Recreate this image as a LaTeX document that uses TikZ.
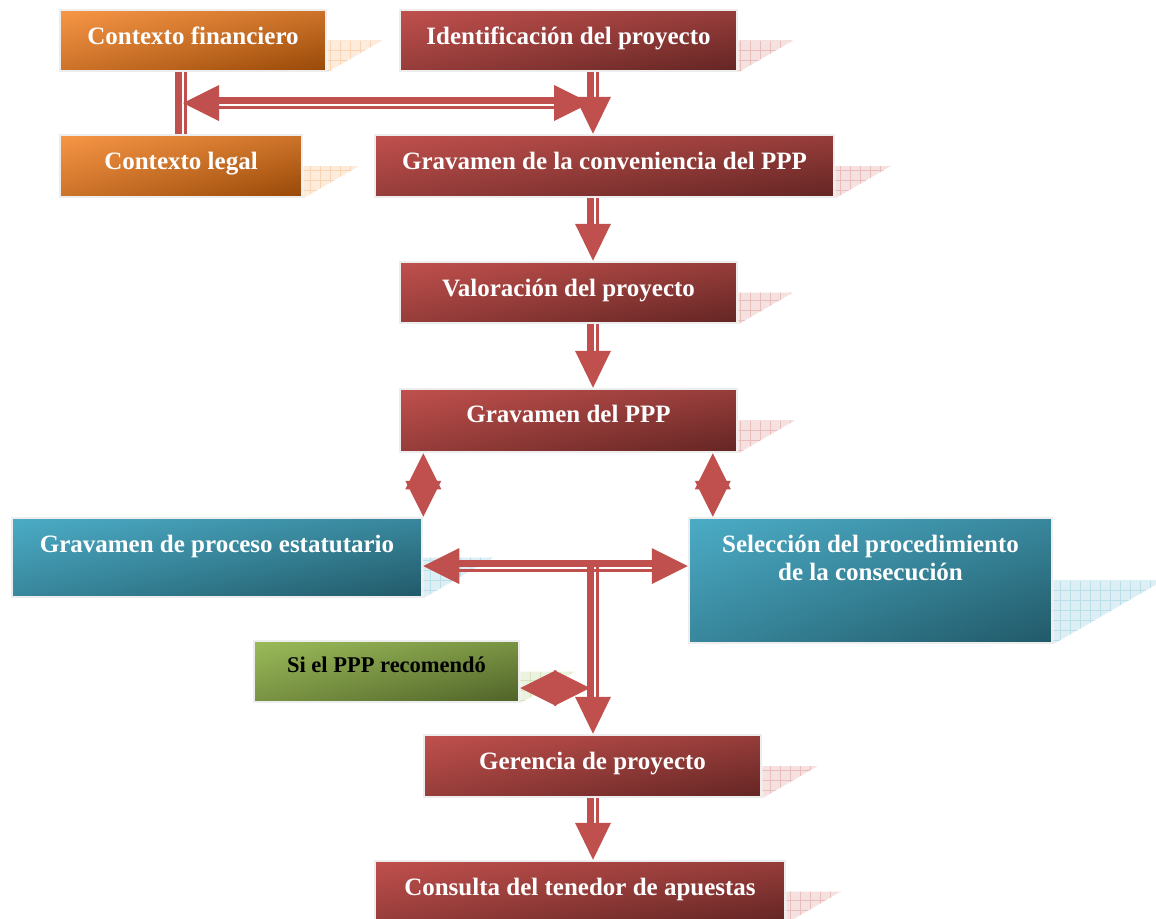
\documentclass[tikz,border=0pt]{standalone}
\usepackage{fontspec}
\setmainfont{Liberation Serif}
\usetikzlibrary{calc,shadings}
\definecolor{arrowred}{HTML}{C0504D}
\definecolor{redA}{HTML}{C0504D}
\definecolor{redB}{HTML}{632523}
\colorlet{redM}{redA!55!redB}
\definecolor{orA}{HTML}{F79646}
\definecolor{orB}{HTML}{984807}
\colorlet{orM}{orA!55!orB}
\definecolor{teA}{HTML}{4BACC6}
\definecolor{teB}{HTML}{215968}
\colorlet{teM}{teA!55!teB}
\definecolor{grA}{HTML}{9BBB59}
\definecolor{grB}{HTML}{4F6228}
\colorlet{grM}{grA!55!grB}
\definecolor{shRed}{HTML}{F5E1E0}
\definecolor{gdRed}{HTML}{E8BDBC}
\definecolor{shOr}{HTML}{FDEBDC}
\definecolor{gdOr}{HTML}{FAD3B2}
\definecolor{shTe}{HTML}{DDEFF4}
\definecolor{gdTe}{HTML}{B9DFE9}
\definecolor{shGr}{HTML}{ECF2E0}
\definecolor{gdGr}{HTML}{D5E2BA}
\tikzset{
  box/.style={rectangle, draw=black!7, line width=2.5pt, inner sep=0pt, shade},
  redbox/.style={box, upper left=redA, upper right=redM, lower left=redM, lower right=redB},
  orbox/.style={box, upper left=orA, upper right=orM, lower left=orM, lower right=orB},
  tebox/.style={box, upper left=teA, upper right=teM, lower left=teM, lower right=teB},
  grbox/.style={box, upper left=grA, upper right=grM, lower left=grM, lower right=grB},
  lbl/.style={anchor=base, text=white, font=\bfseries\fontsize{25}{28}\selectfont, inner sep=0pt, align=center},
  lblsmall/.style={anchor=base, text=black, font=\bfseries\fontsize{22.5}{26}\selectfont, inner sep=0pt},
  arr/.style={fill=arrowred}
}
% vertical single arrow: #1 start (top), #2 tip (bottom), same x
\newcommand\vdarr[2]{%
  \fill[arr] ($(#1)+(-6,0)$) rectangle ($(#2)+(1,-36)$);
  \fill[arr] ($(#1)+(3,0)$) rectangle ($(#2)+(6,-36)$);
  \fill[arr] ($(#2)+(-18,-37)$) -- ($(#2)+(18,-37)$) -- (#2) -- cycle;}
% horizontal double arrow: #1 left tip, #2 right tip, same y
\newcommand\hdarr[2]{%
  \fill[arr] ($(#1)+(34,-6)$) rectangle ($(#2)+(-34,1)$);
  \fill[arr] ($(#1)+(34,3)$) rectangle ($(#2)+(-34,6)$);
  \fill[arr] (#1) -- ($(#1)+(36,-18)$) -- ($(#1)+(36,18)$) -- cycle;
  \fill[arr] (#2) -- ($(#2)+(-36,-18)$) -- ($(#2)+(-36,18)$) -- cycle;}
% vertical double head (diamond): #1 top tip, #2 bottom tip
\newcommand\vdiam[2]{%
  \fill[arr] (#1) -- ($(#1)+(18,36)$) -- ($(#1)+(-18,36)$) -- cycle;
  \fill[arr] (#2) -- ($(#2)+(18,-36)$) -- ($(#2)+(-18,-36)$) -- cycle;}
% horizontal double head (diamond): #1 left tip, #2 right tip
\newcommand\hdiam[2]{%
  \fill[arr] (#1) -- ($(#1)+(36,-18)$) -- ($(#1)+(36,18)$) -- cycle;
  \fill[arr] (#2) -- ($(#2)+(-36,-18)$) -- ($(#2)+(-36,18)$) -- cycle;}
% shadow triangle with grid at the right of a box
\newcommand\shadowtri[3]{%
  \begin{scope}
    \clip let \p1=(#1.north east), \p2=(#1.south east), \n1={\y1-\y2} in
      (\x1,{(\y1+\y2)/2}) -- ({\x1+0.86*\n1},{(\y1+\y2)/2}) -- (\x1,\y2) -- cycle;
    \fill[#2] ($(#1.south east)+(0,5)$) rectangle ++(130,-80);
    \draw[#3, line width=0.8pt, step=10pt] ($(#1.south east)+(0,5)$) grid ++(130,-80);
  \end{scope}}
\begin{document}
\begin{tikzpicture}[x=1pt, y={(0pt,-1pt)}]
\useasboundingbox[fill=white] (0,0) rectangle (1156,918);
% boxes
\node[orbox, minimum width=266pt, minimum height=61pt] (fin) at (193,40.5) {};
\node[redbox, minimum width=337pt, minimum height=61pt] (ident) at (568.5,40.5) {};
\node[orbox, minimum width=242pt, minimum height=62pt] (legal) at (181,166) {};
\node[redbox, minimum width=459pt, minimum height=62pt] (conv) at (604.5,166) {};
\node[redbox, minimum width=337pt, minimum height=61pt] (val) at (568.5,292.5) {};
\node[redbox, minimum width=337pt, minimum height=63pt] (grav) at (568.5,420.5) {};
\node[tebox, minimum width=410pt, minimum height=79pt] (estat) at (217,557.5) {};
\node[tebox, minimum width=363pt, minimum height=125pt] (sel) at (870.5,580.5) {};
\node[grbox, minimum width=265pt, minimum height=61pt] (si) at (386.5,671.5) {};
\node[redbox, minimum width=337pt, minimum height=62pt] (ger) at (592.5,766) {};
\node[redbox, minimum width=410pt, minimum height=61pt] (cons) at (580,891.5) {};
% shadows
\shadowtri{fin}{shOr}{gdOr}
\shadowtri{legal}{shOr}{gdOr}
\shadowtri{ident}{shRed}{gdRed}
\shadowtri{conv}{shRed}{gdRed}
\shadowtri{val}{shRed}{gdRed}
\shadowtri{grav}{shRed}{gdRed}
\shadowtri{estat}{shTe}{gdTe}
\shadowtri{sel}{shTe}{gdTe}
\shadowtri{si}{shGr}{gdGr}
\shadowtri{ger}{shRed}{gdRed}
\shadowtri{cons}{shRed}{gdRed}
% labels
\node[lbl] (tfin) at ($(fin.north)+(0,36)$) {Contexto financiero};
\node[lbl] (tident) at ($(ident.north)+(0,36)$) {Identificación del proyecto};
\node[lbl] (tlegal) at ($(legal.north)+(0,36)$) {Contexto legal};
\node[lbl] (tconv) at ($(conv.north)+(0,36)$) {Gravamen de la conveniencia del PPP};
\node[lbl] (tval) at ($(val.north)+(0,36)$) {Valoración del proyecto};
\node[lbl] (tgrav) at ($(grav.north)+(0,35)$) {Gravamen del PPP};
\node[lbl] (testat) at ($(estat.north)+(0,36)$) {Gravamen de proceso estatutario};
\node[lbl] (tsel) at ($(sel.north)+(0,64)$) {Selección del procedimiento\\de la consecución};
\node[lblsmall] (tsi) at ($(si.north)+(0,33)$) {Si el PPP recomendó};
\node[lbl] (tger) at ($(ger.north)+(0,36)$) {Gerencia de proyecto};
\node[lbl] (tcons) at ($(cons.north)+(0,36)$) {Consulta del tenedor de apuestas};
% coordinates
\coordinate (axis) at (593,0);
\coordinate (bar) at (175,0);
\coordinate (lt) at (183,103);
\coordinate (rt) at (590,103);
\coordinate (ml) at ($(estat.east)+(0,8.5)$);
\coordinate (mr) at (sel.west |- ml);
\coordinate (sl) at ($(si.east)+(0,16.5)$);
\coordinate (sr) at ($(axis |- sl)+(-3,0)$);
\coordinate (ms) at ($(axis |- ml)+(0,-6)$);
\coordinate (rdiam) at ($(sel.north west)+(25,0)$);
% connectors
\fill[arr] (fin.south -| bar) rectangle ($(legal.north -| bar)+(7,0)$);
\fill[arr] ($(fin.south -| bar)+(9,0)$) rectangle ($(legal.north -| bar)+(12,0)$);
\hdarr{lt}{rt}
\vdarr{ident.south -| axis}{conv.north -| axis}
\vdarr{conv.south -| axis}{val.north -| axis}
\vdarr{val.south -| axis}{grav.north -| axis}
\vdiam{grav.south -| estat.north east}{estat.north east}
\vdiam{grav.south -| rdiam}{rdiam}
\hdarr{ml}{mr}
\hdiam{sl}{sr}
\vdarr{ms}{ger.north -| axis}
\vdarr{ger.south -| axis}{cons.north -| axis}
\end{tikzpicture}
\end{document}
